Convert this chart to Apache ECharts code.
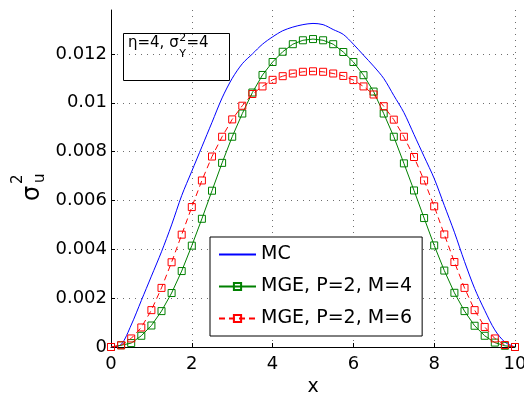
<!DOCTYPE html>
<html>
<head>
<meta charset="utf-8">
<script src="https://cdn.jsdelivr.net/npm/echarts@6/dist/echarts.min.js"></script>
<style>
  html, body { margin: 0; padding: 0; background: #fff; }
  #chart { width: 524px; height: 394px; }
</style>
</head>
<body>
<div id="chart"></div>
<script>
// Sample positions along x
const xPositions = [
  0, 0.25, 0.5, 0.75, 1, 1.25, 1.5, 1.75, 2, 2.25,
  2.5, 2.75, 3, 3.25, 3.5, 3.75, 4, 4.25, 4.5, 4.75,
  5, 5.25, 5.5, 5.75, 6, 6.25, 6.5, 6.75, 7, 7.25,
  7.5, 7.75, 8, 8.25, 8.5, 8.75, 9, 9.25, 9.5, 9.75, 10
];

// Monte Carlo reference variance
const mcVariance = [
  0, 0.0001, 0.0009, 0.0019, 0.0029, 0.0039, 0.0050, 0.0062, 0.0072, 0.0082,
  0.0092, 0.0102, 0.0110, 0.0116, 0.0120, 0.0124, 0.0127, 0.01295, 0.0131, 0.0132,
  0.01325, 0.0132, 0.0130, 0.0128, 0.0124, 0.01195, 0.0115, 0.0110, 0.0103, 0.0096,
  0.0087, 0.0078, 0.0069, 0.0058, 0.0047, 0.0035, 0.0024, 0.0015, 0.0007, 0.0002, 0
];

// MGE, P=2, M=4
const mgeM4 = [
  0, 0.00007, 0.00016, 0.00046, 0.00088, 0.00147, 0.00221, 0.00311, 0.00415, 0.00525,
  0.0064, 0.00754, 0.00861, 0.00956, 0.01042, 0.01114, 0.01167, 0.01209, 0.0124, 0.01256,
  0.01261, 0.01256, 0.0124, 0.01208, 0.01167, 0.01113, 0.01046, 0.00956, 0.00861, 0.00752,
  0.00641, 0.00528, 0.00416, 0.00313, 0.00222, 0.00147, 0.00087, 0.00046, 0.00018, 0.00005, 0
];

// MGE, P=2, M=6
const mgeM6 = [
  0, 0.00007, 0.00035, 0.0008, 0.00151, 0.00242, 0.00347, 0.0046, 0.00573, 0.00682,
  0.0078, 0.00861, 0.00932, 0.00988, 0.01036, 0.01067, 0.01094, 0.01109, 0.0112, 0.01127,
  0.01129, 0.01127, 0.0112, 0.0111, 0.01093, 0.01067, 0.01034, 0.00986, 0.00931, 0.00861,
  0.00778, 0.00682, 0.00576, 0.00461, 0.00348, 0.00242, 0.00151, 0.00082, 0.00035, 0.00008, 0
];

const seriesNames = ['MC', 'MGE, P=2, M=4', 'MGE, P=2, M=6'];

const FONT = "'DejaVu Sans', 'Liberation Sans', Arial, sans-serif";

function pairs(ys) {
  return xPositions.map(function (x, i) { return [x, ys[i]]; });
}

// width of a string in the given font, for placing super/subscripts
const measureCtx = document.createElement('canvas').getContext('2d');
function textWidth(str, size) {
  measureCtx.font = size + 'px ' + FONT;
  return measureCtx.measureText(str).width;
}

const gridDots = { color: '#6e6e6e', width: 1, type: [1, 5] };

// annotation: "η=4, σ²_Y=4"
const noteX = 128, noteBase = 51, noteSize = 15, scriptSize = 11;
const notePrefix = 'η=4, σ';
const scriptX = noteX + textWidth(notePrefix, noteSize) + 0.5;
const suffixX = scriptX + textWidth('Y', scriptSize) + 0.5;

const chart = echarts.init(document.getElementById('chart'), null, { renderer: 'canvas' });

chart.setOption({
  animation: false,
  backgroundColor: '#fff',
  grid: { left: 111, right: 9, top: 10, bottom: 47, containLabel: false, outerBoundsMode: 'none' },
  xAxis: {
    type: 'value',
    min: 0, max: 10, interval: 2,
    name: 'x',
    nameLocation: 'middle',
    nameGap: 28,
    nameTextStyle: { fontSize: 19, color: '#000', fontFamily: FONT },
    axisLine: { lineStyle: { color: '#000', width: 1 } },
    axisTick: { inside: true, length: 4, lineStyle: { color: '#000' } },
    axisLabel: { fontSize: 18, color: '#000', fontFamily: FONT, margin: 8 },
    splitLine: { show: true, lineStyle: gridDots }
  },
  yAxis: {
    type: 'value',
    min: 0, max: 0.0138, interval: 0.002,
    axisLine: { show: true, lineStyle: { color: '#000', width: 1 } },
    axisTick: { show: true, inside: true, length: 4, lineStyle: { color: '#000' } },
    axisLabel: { fontSize: 18, color: '#000', fontFamily: FONT, margin: 4, showMaxLabel: false },
    splitLine: { show: true, showMaxLine: false, lineStyle: gridDots }
  },
  legend: {
    data: [
      { name: seriesNames[0], itemStyle: { opacity: 0 } },
      { name: seriesNames[1] },
      { name: seriesNames[2] }
    ],
    orient: 'vertical',
    left: 210, top: 237,
    itemWidth: 37, itemHeight: 9, itemGap: 13,
    padding: [8, 10, 8, 8],
    borderColor: '#000', borderWidth: 1,
    backgroundColor: '#fff',
    textStyle: { fontSize: 19, color: '#000', fontFamily: FONT }
  },
  series: [
    {
      name: seriesNames[0], type: 'line', data: pairs(mcVariance),
      symbol: 'none', smooth: 0.3,
      lineStyle: { color: '#0000ff', width: 1 },
      itemStyle: { color: '#0000ff' },
      emphasis: { disabled: true }, z: 2
    },
    {
      name: seriesNames[1], type: 'line', data: pairs(mgeM4),
      symbol: 'rect', symbolSize: 7,
      lineStyle: { color: '#008000', width: 1 },
      itemStyle: { color: 'rgba(0,0,0,0)', borderColor: '#008000', borderWidth: 1 },
      emphasis: { disabled: true }, z: 3
    },
    {
      name: seriesNames[2], type: 'line', data: pairs(mgeM6),
      symbol: 'rect', symbolSize: 7,
      lineStyle: { color: '#ff0000', width: 1, type: [6, 4] },
      itemStyle: { color: 'rgba(0,0,0,0)', borderColor: '#ff0000', borderWidth: 1 },
      emphasis: { disabled: true }, z: 4
    }
  ],
  graphic: [
    // parameter annotation box
    {
      type: 'rect', z: 10,
      shape: { x: 123.5, y: 33.5, width: 106, height: 47 },
      style: { fill: 'none', stroke: '#000', lineWidth: 1 }
    },
    {
      type: 'text', z: 11, x: noteX, y: noteBase,
      style: { text: notePrefix, fontSize: noteSize, fontFamily: FONT, fill: '#000', textVerticalAlign: 'bottom' }
    },
    {
      type: 'text', z: 11, x: scriptX, y: noteBase - 7,
      style: { text: '2', fontSize: scriptSize, fontFamily: FONT, fill: '#000', textVerticalAlign: 'bottom' }
    },
    {
      type: 'text', z: 11, x: scriptX, y: noteBase + 9,
      style: { text: 'Y', fontSize: scriptSize, fontFamily: FONT, fill: '#000', textVerticalAlign: 'bottom' }
    },
    {
      type: 'text', z: 11, x: suffixX, y: noteBase,
      style: { text: '=4', fontSize: noteSize, fontFamily: FONT, fill: '#000', textVerticalAlign: 'bottom' }
    },
    // y-axis title, rotated to read bottom-to-top
    {
      type: 'group', x: 45, y: 201, rotation: Math.PI / 2,
      children: [
        { type: 'text', x: 0, y: 0,
          style: { text: 'σ', fontSize: 24, fontFamily: FONT, fill: '#000', textVerticalAlign: 'bottom' } },
        { type: 'text', x: 17, y: -19,
          style: { text: '2', fontSize: 15, fontFamily: FONT, fill: '#000', textVerticalAlign: 'bottom' } },
        { type: 'text', x: 18, y: 3,
          style: { text: 'u', fontSize: 15, fontFamily: FONT, fill: '#000', textVerticalAlign: 'bottom' } }
      ]
    }
  ]
});
</script>
</body>
</html>
